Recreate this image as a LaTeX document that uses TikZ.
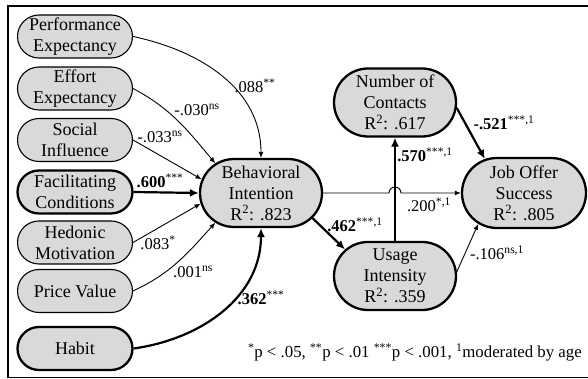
\documentclass[tikz,border=0pt]{standalone}
\usepackage{fontspec}
\setmainfont{Liberation Serif}
\usetikzlibrary{shapes.misc,arrows.meta}
\definecolor{boxgray}{RGB}{217,217,217}
\tikzset{
  var/.style={rounded rectangle, draw, line width=1.1pt, fill=boxgray, align=center,
    inner sep=0pt, minimum width=115pt, minimum height=43pt, font=\fontsize{18}{21}\selectfont},
  var2/.style={var, minimum width=122pt, minimum height=68pt},
  heavy/.style={line width=2.3pt},
  eff/.style={-{Latex[length=6pt,width=5pt]}, line width=0.9pt},
  effbold/.style={-{Latex[length=9pt,width=8pt]}, line width=2.2pt},
  coef/.style={font=\fontsize{16.5}{18}\selectfont, inner sep=0pt},
}
\begin{document}
\begin{tikzpicture}[x=1pt,y=1pt]
      \useasboundingbox (0,0) rectangle (588,379);
      \draw[line width=1.6pt] (8,1.5) rectangle (600,373);
      % UTAUT2 constructs
      \node[var] (pe) at (75,342.5) {Performance\\Expectancy};
      \node[var] (ee) at (75,290.5) {Effort\\Expectancy};
      \node[var] (si) at (75,239) {Social\\Influence};
      \node[var,heavy] (fc) at (75,187) {Facilitating\\Conditions};
      \node[var] (hm) at (75,136.5) {Hedonic\\Motivation};
      \node[var] (pv) at (75,88) {Price Value};
      \node[var,heavy] (hab) at (75,30.5) {Habit};
      % outcomes
      \node[var2,heavy] (bi) at (261,186) {Behavioral\\Intention\\R\textsuperscript{2}: .823};
      \node[var2,heavy] (nc) at (395,276.5) {Number of\\Contacts\\R\textsuperscript{2}: .617};
      \node[var2,heavy] (ui) at (395,103) {Usage\\Intensity\\R\textsuperscript{2}: .359};
      \node[var2,heavy,minimum width=124pt,minimum height=70pt] (jos) at (524,186) {Job Offer\\Success\\R\textsuperscript{2}: .805};
      % paths into intention
      \draw[eff] (pe.east) to[out=-12,in=90] (bi.north);
      \draw[eff] (ee.east) to[out=-28,in=130] (bi.147);
      \draw[eff] (si.east) -- (bi.167);
      \draw[effbold] (fc.east) -- (bi.west);
      \draw[eff] (hm.east) -- (bi.190);
      \draw[eff] (pv.east) to[out=25,in=228] (bi.213);
      \draw[effbold] (hab.east) to[out=8,in=-90] (bi.south);
      % paths to job offer
      \coordinate (cross) at (bi.east -| ui.north);
      \draw[eff] (bi.east) -- ([xshift=-6pt]cross) arc[start angle=180,end angle=0,radius=6pt] -- (jos.west);
      \draw[effbold] (bi.-26) -- (ui.152);
      \draw[effbold] (ui.north) -- (nc.south);
      \draw[effbold] (nc.-5) -- (jos.139);
      \draw[eff] (ui.4) -- (jos.214);
      % coefficients
      \node[coef] (c1) at (255,293) {.088\textsuperscript{**}};
      \node[coef] (c2) at (197,269) {-.030\textsuperscript{ns}};
      \node[coef] (c3) at (160,242) {-.033\textsuperscript{ns}};
      \node[coef] (c4) at (160,198) {\textbf{.600}\textsuperscript{***}};
      \node[coef] (c5) at (158,136) {.083\textsuperscript{*}};
      \node[coef] (c6) at (193,107) {.001\textsuperscript{ns}};
      \node[coef] (c7) at (261,81) {\textbf{.362}\textsuperscript{***}};
      \node[coef] (c8) at (355,154) {\textbf{.462}\textsuperscript{***,1}};
      \node[coef] (c9) at (425,224) {\textbf{.570}\textsuperscript{***,1}};
      \node[coef] (c10) at (504,256) {\textbf{-.521}\textsuperscript{***,1}};
      \node[coef] (c11) at (429,174) {.200\textsuperscript{*,1}};
      \node[coef] (c12) at (497,126) {-.106\textsuperscript{ns,1}};
      \node[coef,anchor=base east,font=\fontsize{16.8}{18}\selectfont] (note) at (582,21)
        {\textsuperscript{*}p < .05, \textsuperscript{**}p < .01 \textsuperscript{***}p < .001, \textsuperscript{1}moderated by age};
    \end{tikzpicture}
\end{document}
